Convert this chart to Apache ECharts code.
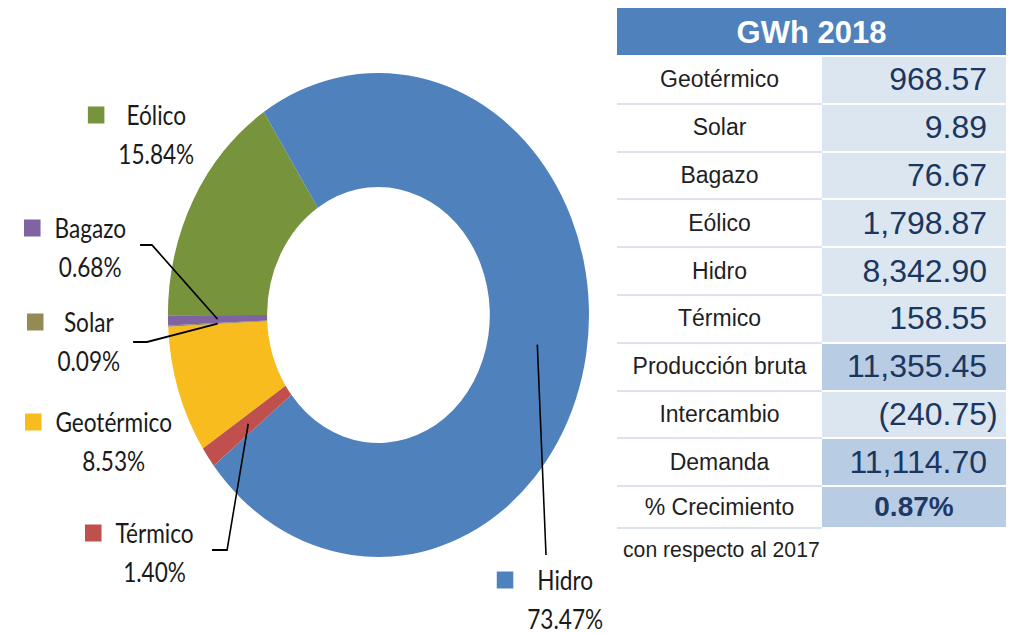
<!DOCTYPE html>
<html>
<head>
<meta charset="utf-8">
<script src="https://cdn.jsdelivr.net/npm/echarts@6/dist/echarts.min.js"></script>
<style>
html, body { margin: 0; padding: 0; background: #fff; width: 1020px; height: 633px; overflow: hidden; }
#chart { position: absolute; left: 0; top: 0; width: 1172px; height: 633px; transform: scaleX(0.87); transform-origin: 0 0; }
#tbl { position: absolute; left: 617px; top: 8px; width: 389px; font-family: "Liberation Sans", Arial, sans-serif; }
#tbl .hdr { height: 47px; background: #4F81BD; color: #fff; font-weight: bold; font-size: 31px; line-height: 49px; text-align: center; margin-bottom: 2px; }
#tbl .row { display: flex; }
#tbl .name { width: 205px; box-sizing: border-box; height: 47.8px; border-bottom: 2px solid #DCE3ED; background: #fff; color: #1f1f1f; font-size: 23px; display: flex; align-items: center; justify-content: center; }
#tbl .val { width: 184px; box-sizing: border-box; height: 45.8px; margin-bottom: 2px; background: #DCE6F1; color: #1B365F; font-size: 32px; display: flex; align-items: center; justify-content: flex-end; padding-right: 19px; }
#tbl .val.dark { background: #B8CCE4; }
#tbl .val.pct { justify-content: center; padding-right: 0; font-weight: bold; font-size: 28px; color: #1F3864; }
#tbl .row.last .name { height: 42px; }
#tbl .row.last .val { height: 40px; }
#tbl .note { position: absolute; left: 6px; top: 530px; font-size: 21.2px; color: #1f1f1f; white-space: nowrap; }
</style>
</head>
<body>
<div id="chart"></div>
<div id="tbl"></div>
<script>
// ---------------- data ----------------
const categories = ['Geotérmico', 'Solar', 'Bagazo', 'Eólico', 'Hidro', 'Térmico'];
const gwh2018 = [968.57, 9.89, 76.67, 1798.87, 8342.90, 158.55];
const tableTitle = 'GWh 2018';
const summaryNames = ['Producción bruta', 'Intercambio', 'Demanda'];
const summaryValues = [11355.45, -240.75, 11114.70];
const growthName = '% Crecimiento';
const growthPct = 0.87;
const growthNote = 'con respecto al 2017';

// ---------------- styling / layout ----------------
const colors = ['#F8BC1F', '#948A54', '#8064A2', '#77933C', '#4F81BD', '#C0504D'];
const CX = 435, CY = 315, R0 = 128, R1 = 242, START = 213.5;
// label block anchors (top-left) in chart coordinates
const labelAnchors = [[28.7, 402.5], [31, 302.5], [27.6, 208.5], [101, 95.5], [571, 560.5], [97.7, 513.5]];
// leader line bend/end points (null = no leader)
const leaderPts = [null, [[169, 342], [153, 342]], [[174.7, 245], [161, 245]], null, [[627.6, 555]], [[261, 550], [243.7, 550]]];

const total = gwh2018.reduce((a, b) => a + b, 0);
const pctText = gwh2018.map(v => (v / total * 100).toFixed(2) + '%');

function midRingPoint(i) {
  let cum = 0;
  for (let k = 0; k < i; k++) cum += gwh2018[k];
  const a0 = START - cum / total * 360;
  const a1 = a0 - gwh2018[i] / total * 360;
  const mid = (a0 + a1) / 2 * Math.PI / 180;
  const rm = (R0 + R1) / 2;
  return [CX + rm * Math.cos(mid), CY - rm * Math.sin(mid)];
}

const rich = {
  g: { width: 16, lineHeight: 39 },
  pad: { width: 35, lineHeight: 39 },
  n: { align: 'center', fontFamily: 'Lato', fontSize: 26, color: '#1a1a1a', lineHeight: 39 },
  p: { align: 'center', fontFamily: 'Lato', fontSize: 26, color: '#1a1a1a', lineHeight: 39 }
};
colors.forEach((c, i) => { rich['sq' + i] = { width: 19, height: 17, backgroundColor: c, lineHeight: 39 }; });

const pieData = categories.map((name, i) => ({
  name: name,
  value: gwh2018[i],
  itemStyle: { color: colors[i] }
}));

const leaderGraphics = [];
leaderPts.forEach((pts, i) => {
  if (!pts) return;
  leaderGraphics.push({
    type: 'polyline',
    silent: true,
    z: 100,
    shape: { points: [midRingPoint(i)].concat(pts) },
    style: { stroke: '#000', lineWidth: 1.8, fill: null }
  });
});

const chart = echarts.init(document.getElementById('chart'), null, { renderer: 'svg' });
chart.setOption({
  animation: false,
  backgroundColor: '#fff',
  graphic: leaderGraphics,
  series: [{
    type: 'pie',
    center: [CX, CY],
    radius: [R0, R1],
    startAngle: START,
    clockwise: true,
    avoidLabelOverlap: false,
    silent: true,
    data: pieData,
    label: {
      show: true,
      position: 'outside',
      fontFamily: 'Lato',
      fontSize: 26,
      color: '#1a1a1a',
      lineHeight: 39,
      align: 'left',
      formatter: p => '{sq' + p.dataIndex + '|}{g|}{n|' + p.name + '}\n{pad|}{p|' + pctText[p.dataIndex] + '}',
      rich: rich
    },
    labelLine: { show: false },
    labelLayout: function (params) {
      const i = params.dataIndex;
      return { x: labelAnchors[i][0], y: labelAnchors[i][1], align: 'left', verticalAlign: 'top' };
    }
  }]
});

// ---------------- table ----------------
function fmt(v) {
  const s = Math.abs(v).toLocaleString('en-US', { minimumFractionDigits: 2, maximumFractionDigits: 2 });
  return v < 0 ? '(' + s + '<span style="margin-right:-0.333em">)</span>' : s;
}
let html = '<div class="hdr">' + tableTitle + '</div>';
categories.forEach((c, i) => {
  html += '<div class="row"><div class="name">' + c + '</div><div class="val">' + fmt(gwh2018[i]) + '</div></div>';
});
summaryNames.forEach((c, i) => {
  const dark = (i !== 1) ? ' dark' : '';
  html += '<div class="row"><div class="name">' + c + '</div><div class="val' + dark + '">' + fmt(summaryValues[i]) + '</div></div>';
});
html += '<div class="row last"><div class="name">' + growthName + '</div><div class="val dark pct">' + growthPct.toFixed(2) + '%</div></div>';
html += '<div class="note">' + growthNote + '</div>';
const tbl = document.getElementById('tbl');
tbl.innerHTML = html;
</script>
</body>
</html>
